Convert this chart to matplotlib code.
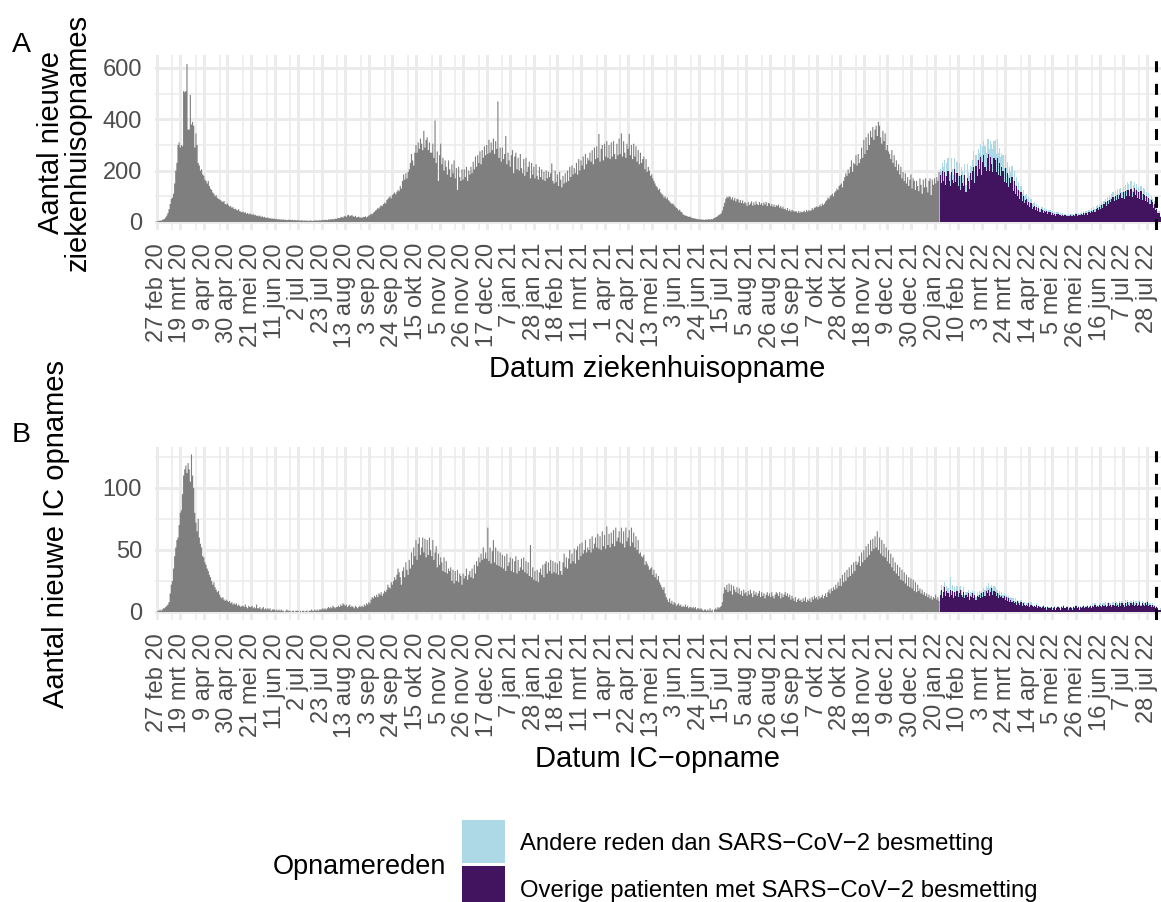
import numpy as np
import pandas as pd
import matplotlib
matplotlib.use("Agg")
import matplotlib.pyplot as plt
import matplotlib.dates as mdates
from matplotlib.patches import Rectangle

plt.rcParams['font.family'] = ['Liberation Sans', 'DejaVu Sans']

# ---------------- data ----------------
START_GRAY = "2020-02-27"     # first day of data
START_SPLIT = "2022-01-25"    # first day with split by admission reason
VLINE_DATE = "2022-08-05"

# Panel A: daily hospital admissions (before split)
hosp_total = [
    2, 3, 4, 6, 5, 8, 10,
    12, 18, 25, 35, 50, 70, 90,
    95, 110, 150, 200, 230, 300, 310,
    290, 300, 295, 510, 505, 510, 615,
    360, 360, 495, 380, 390, 375, 290,
    345, 300, 230, 220, 200, 205, 185,
    180, 165, 160, 150, 160, 140, 130,
    125, 115, 110, 100, 105, 95, 90,
    88, 85, 80, 78, 82, 70, 68,
    72, 65, 60, 62, 55, 58, 50,
    52, 48, 45, 50, 42, 40, 38,
    40, 36, 38, 32, 35, 30, 34,
    30, 28, 32, 26, 28, 24, 25,
    22, 25, 20, 22, 18, 20, 17,
    16, 18, 14, 15, 13, 14, 12,
    13, 11, 12, 10, 11, 9, 10,
    9, 10, 8, 9, 7, 8, 9,
    8, 7, 9, 6, 8, 7, 6,
    7, 6, 5, 7, 6, 5, 6,
    5, 6, 4, 5, 6, 5, 4,
    6, 5, 7, 6, 5, 7, 6,
    7, 8, 6, 9, 8, 7, 10,
    9, 11, 10, 12, 10, 13, 12,
    14, 16, 15, 18, 20, 17, 22,
    24, 20, 26, 28, 22, 25, 27,
    22, 20, 24, 18, 19, 21, 17,
    18, 16, 20, 19, 22, 18, 21,
    25, 28, 32, 30, 36, 40, 45,
    48, 55, 52, 60, 65, 62, 70,
    75, 72, 85, 90, 95, 100, 92,
    105, 110, 115, 108, 118, 125, 120,
    140, 130, 160, 185, 165, 190, 170,
    195, 205, 230, 265, 240, 220, 270,
    300, 270, 310, 285, 325, 305, 280,
    355, 290, 320, 330, 280, 310, 270,
    270, 305, 250, 395, 230, 275, 160,
    260, 305, 225, 250, 200, 240, 215,
    185, 240, 205, 175, 225, 190, 240,
    170, 210, 125, 215, 175, 160, 205,
    165, 205, 175, 215, 160, 200, 185,
    215, 190, 235, 205, 255, 215, 260,
    230, 275, 225, 280, 250, 295, 260,
    300, 265, 320, 270, 310, 280, 325,
    265, 315, 285, 470, 250, 290, 235,
    290, 245, 265, 335, 225, 270, 240,
    215, 260, 280, 190, 255, 270, 205,
    250, 200, 265, 210, 190, 245, 180,
    250, 195, 215, 235, 170, 230, 185,
    215, 170, 225, 180, 165, 215, 175,
    205, 165, 195, 160, 200, 170, 195,
    175, 190, 228, 160, 150, 200, 155,
    185, 140, 195, 165, 135, 180, 150,
    190, 155, 200, 160, 215, 175, 220,
    185, 210, 190, 230, 185, 245, 200,
    240, 220, 255, 205, 265, 225, 250,
    240, 270, 235, 280, 225, 290, 245,
    295, 250, 343, 235, 285, 300, 240,
    305, 255, 315, 250, 300, 245, 310,
    255, 315, 265, 245, 305, 260, 325,
    265, 345, 255, 315, 270, 250, 305,
    285, 343, 260, 300, 245, 305, 255,
    295, 235, 280, 225, 270, 230, 245,
    255, 205, 245, 195, 215, 200, 180,
    185, 170, 160, 150, 140, 135, 125,
    130, 115, 110, 105, 95, 100, 90,
    95, 85, 80, 75, 70, 72, 65,
    60, 55, 52, 45, 48, 40, 38,
    30, 27, 25, 24, 22, 20, 21,
    18, 16, 15, 14, 13, 12, 11,
    10, 11, 9, 10, 9, 8, 10,
    9, 10, 11, 9, 12, 10, 14,
    16, 18, 20, 24, 28, 30, 34,
    45, 60, 75, 90, 98, 95, 100,
    98, 88, 96, 84, 94, 80, 90,
    88, 76, 86, 74, 84, 72, 78,
    72, 62, 78, 66, 72, 80, 64,
    76, 66, 80, 70, 66, 78, 68,
    74, 64, 76, 68, 78, 62, 74,
    72, 62, 70, 60, 68, 58, 66,
    62, 68, 56, 62, 53, 60, 50,
    52, 46, 54, 43, 49, 41, 47,
    44, 40, 42, 41, 36, 43, 36,
    41, 38, 40, 44, 38, 47, 41,
    46, 44, 45, 54, 48, 56, 57,
    61, 58, 60, 68, 61, 72, 66,
    72, 80, 85, 95, 90, 100, 105,
    110, 100, 115, 120, 130, 125, 140,
    145, 150, 135, 160, 175, 190, 180,
    205, 190, 215, 240, 195, 230, 225,
    260, 220, 265, 230, 245, 290, 250,
    320, 265, 330, 280, 345, 300, 355,
    330, 370, 320, 360, 375, 335, 390,
    375, 330, 305, 355, 315, 345, 280,
    300, 275, 265, 245, 280, 230, 260,
    215, 240, 200, 225, 185, 215, 170,
    195, 160, 190, 150, 175, 140, 165,
    185, 130, 170, 160, 125, 160, 140,
    120, 170, 145, 110, 165, 135, 170,
    135, 115, 160, 170, 105, 165, 145,
    170, 150, 175, 160, 195,
]

# Panel A after split: "Overige patienten met SARS-CoV-2 besmetting"
hosp_covid = [
    185, 150, 200, 160, 195, 145, 180,
    200, 160, 140, 195, 165, 150, 205,
    155, 190, 140, 180, 125, 185, 150,
    140, 185, 115, 170, 160, 130, 190,
    165, 200, 215, 150, 220, 180, 240,
    205, 255, 185, 235, 260, 215, 200,
    250, 265, 200, 255, 225, 195, 250,
    240, 195, 250, 185, 230, 180, 215,
    200, 155, 210, 150, 190, 135, 170,
    150, 175, 120, 160, 110, 140, 100,
    125, 90, 115, 80, 100, 75, 85,
    90, 65, 78, 58, 75, 52, 60,
    62, 46, 58, 42, 54, 40, 50,
    48, 36, 44, 38, 42, 33, 38,
    38, 28, 36, 26, 33, 25, 32,
    30, 26, 28, 24, 27, 22, 26,
    27, 23, 25, 22, 27, 25, 24,
    28, 22, 30, 23, 29, 27, 28,
    33, 26, 35, 28, 36, 29, 38,
    40, 34, 44, 38, 48, 40, 52,
    55, 48, 58, 52, 66, 56, 70,
    76, 62, 80, 72, 84, 78, 88,
    96, 80, 100, 84, 106, 88, 104,
    112, 92, 118, 90, 122, 102, 126,
    124, 100, 130, 96, 118, 132, 104,
    124, 95, 116, 90, 120, 85, 110,
    106, 80, 100, 76, 95, 70, 86,
    76, 56, 70, 48, 50, 36, 34,
    18,
]
# Panel A after split: "Andere reden dan SARS-CoV-2 besmetting"
hosp_other = [
    20, 45, 30, 55, 45, 35, 50,
    50, 30, 45, 55, 40, 35, 45,
    35, 45, 40, 50, 55, 30, 50,
    45, 40, 30, 55, 35, 50, 30,
    50, 40, 60, 50, 40, 60, 45,
    65, 50, 75, 60, 55, 80, 70,
    75, 60, 85, 60, 80, 90, 65,
    80, 70, 75, 85, 60, 75, 55,
    60, 55, 50, 60, 45, 50, 45,
    45, 45, 40, 40, 35, 35, 30,
    30, 30, 25, 30, 25, 25, 20,
    20, 25, 18, 20, 15, 18, 15,
    15, 12, 14, 12, 10, 12, 10,
    12, 10, 11, 9, 10, 9, 10,
    8, 9, 7, 8, 7, 8, 6,
    7, 6, 8, 6, 7, 5, 6,
    6, 5, 7, 5, 6, 5, 6,
    5, 6, 5, 7, 5, 6, 7,
    6, 7, 6, 8, 7, 8, 7,
    8, 7, 9, 8, 10, 9, 10,
    10, 12, 11, 13, 12, 14, 13,
    14, 15, 16, 15, 18, 17, 20,
    20, 18, 22, 20, 24, 21, 23,
    22, 25, 20, 26, 24, 22, 28,
    25, 22, 28, 24, 26, 22, 22,
    24, 26, 22, 25, 20, 23, 22,
    22, 20, 18, 20, 17, 18, 16,
    14, 12, 13, 10, 9, 8, 7,
    5,
]

# Panel B: daily IC admissions (before split)
ic_total = [
    0, 1, 1, 2, 1, 2, 3,
    3, 4, 5, 6, 8, 15, 22,
    25, 35, 45, 52, 58, 60, 70,
    80, 82, 95, 110, 115, 118, 112,
    120, 115, 105, 127, 110, 100, 80,
    72, 65, 75, 60, 55, 52, 45,
    44, 40, 38, 35, 33, 30, 28,
    25, 22, 24, 20, 18, 16, 17,
    14, 12, 11, 12, 10, 9, 10,
    9, 8, 9, 7, 8, 6, 7,
    6, 7, 5, 6, 5, 4, 5,
    5, 4, 6, 4, 3, 5, 4,
    4, 5, 3, 4, 3, 6, 3,
    3, 4, 2, 3, 4, 2, 3,
    2, 3, 2, 3, 1, 2, 2,
    2, 1, 2, 1, 2, 1, 2,
    1, 1, 0, 1, 2, 1, 1,
    1, 0, 1, 1, 0, 1, 1,
    1, 0, 1, 0, 1, 1, 0,
    1, 1, 0, 1, 1, 2, 1,
    1, 2, 1, 2, 1, 2, 2,
    2, 3, 2, 3, 2, 3, 4,
    3, 4, 3, 5, 4, 3, 4,
    4, 5, 4, 6, 5, 7, 6,
    5, 6, 4, 5, 6, 4, 5,
    4, 3, 5, 4, 3, 4, 5,
    4, 5, 4, 6, 5, 7, 6,
    8, 7, 10, 12, 11, 13, 12,
    14, 12, 15, 14, 16, 13, 15,
    17, 16, 18, 22, 20, 19, 24,
    22, 25, 28, 26, 30, 35, 32,
    28, 22, 33, 36, 28, 40, 34,
    30, 42, 35, 48, 38, 52, 45,
    58, 42, 55, 60, 46, 52, 60,
    48, 59, 44, 58, 46, 60, 50,
    45, 58, 42, 48, 53, 36, 47,
    38, 44, 40, 33, 44, 32, 41,
    31, 35, 33, 36, 25, 34, 23,
    33, 25, 34, 24, 31, 29, 22,
    31, 27, 29, 35, 26, 30, 33,
    28, 35, 27, 38, 31, 41, 37,
    44, 40, 47, 42, 52, 43, 48,
    43, 68, 41, 52, 39, 49, 58,
    40, 52, 38, 49, 37, 48, 36,
    46, 35, 45, 33, 47, 37, 40,
    44, 33, 43, 32, 41, 45, 31,
    42, 33, 36, 43, 34, 44, 32,
    41, 31, 40, 29, 54, 28, 36,
    26, 33, 25, 34, 24, 32, 35,
    30, 38, 28, 39, 41, 31, 40,
    33, 42, 31, 41, 32, 40, 31,
    39, 30, 41, 33, 30, 40, 47,
    36, 44, 35, 43, 50, 39, 47,
    41, 51, 39, 50, 53, 42, 55,
    45, 56, 47, 50, 58, 48, 52,
    50, 59, 48, 61, 51, 55, 60,
    52, 63, 51, 61, 50, 65, 53,
    62, 51, 69, 54, 63, 52, 64,
    55, 66, 53, 68, 57, 60, 65,
    56, 68, 55, 65, 52, 68, 57,
    60, 66, 53, 68, 56, 64, 52,
    61, 50, 58, 47, 48, 45, 44,
    46, 38, 41, 39, 37, 34, 35,
    36, 30, 34, 28, 31, 26, 29,
    24, 22, 20, 18, 20, 15, 12,
    10, 8, 11, 7, 9, 6, 8,
    7, 5, 6, 7, 5, 6, 4,
    5, 4, 6, 4, 5, 3, 4,
    4, 3, 4, 3, 4, 2, 3,
    3, 2, 3, 2, 1, 2, 2,
    1, 2, 1, 3, 1, 2, 0,
    2, 3, 2, 4, 3, 4, 5,
    8, 15, 20, 18, 22, 16, 23,
    17, 22, 14, 21, 18, 16, 20,
    15, 19, 14, 17, 13, 18, 15,
    16, 13, 17, 14, 18, 15, 12,
    17, 14, 16, 13, 15, 17, 12,
    16, 13, 15, 11, 14, 16, 13,
    15, 12, 16, 13, 11, 14, 16,
    15, 13, 16, 11, 15, 12, 14,
    16, 13, 15, 12, 14, 10, 13,
    11, 9, 12, 8, 10, 11, 9,
    10, 8, 11, 9, 12, 8, 10,
    9, 11, 8, 12, 10, 13, 11,
    12, 10, 13, 11, 12, 14, 11,
    13, 15, 12, 16, 18, 15, 19,
    17, 20, 18, 22, 19, 24, 21,
    27, 21, 30, 24, 32, 25, 34,
    28, 36, 29, 38, 31, 40, 33,
    41, 38, 40, 45, 37, 48, 40,
    50, 42, 53, 44, 55, 46, 58,
    49, 59, 51, 61, 52, 65, 50,
    60, 47, 58, 45, 55, 44, 52,
    41, 50, 39, 47, 36, 44, 33,
    40, 31, 38, 29, 36, 26, 34,
    25, 32, 23, 30, 21, 28, 20,
    27, 19, 26, 17, 24, 16, 22,
    17, 19, 15, 18, 14, 16, 13,
    15, 12, 14, 11, 13, 10, 12,
    11, 14, 10, 12, 9,
]

ic_covid = [
    14, 18, 11, 16, 20, 13, 17,
    15, 12, 18, 14, 17, 11, 16,
    13, 17, 12, 15, 18, 14, 12,
    16, 11, 14, 12, 15, 10, 13,
    12, 15, 11, 14, 10, 13, 12,
    14, 11, 15, 12, 16, 13, 17,
    15, 18, 13, 16, 19, 14, 17,
    16, 13, 15, 11, 14, 12, 13,
    11, 13, 10, 12, 9, 11, 8,
    10, 8, 9, 7, 8, 6, 9,
    7, 6, 8, 5, 7, 6, 5,
    6, 5, 7, 4, 6, 5, 4,
    5, 4, 6, 3, 5, 4, 3,
    4, 5, 3, 4, 2, 4, 3,
    3, 4, 2, 3, 4, 2, 3,
    4, 3, 2, 4, 3, 5, 3,
    3, 4, 2, 3, 4, 3, 2,
    4, 3, 5, 3, 4, 2, 4,
    3, 4, 5, 3, 4, 5, 3,
    4, 5, 3, 5, 4, 6, 4,
    5, 4, 6, 5, 4, 6, 5,
    6, 4, 5, 7, 5, 6, 4,
    6, 5, 7, 5, 6, 4, 7,
    5, 7, 6, 4, 7, 5, 8,
    6, 5, 7, 6, 8, 5, 6,
    7, 5, 6, 8, 5, 7, 6,
    5, 7, 6, 8, 5, 6, 4,
    6, 4, 5, 3, 4, 3, 2,
    2,
]
ic_other = [
    3, 4, 2, 5, 4, 3, 4,
    4, 3, 10, 3, 5, 2, 4,
    3, 4, 3, 5, 3, 4, 2,
    4, 3, 2, 4, 3, 2, 3,
    3, 2, 4, 3, 2, 3, 2,
    3, 4, 2, 4, 3, 5, 4,
    4, 5, 6, 4, 3, 5, 4,
    4, 5, 3, 4, 3, 2, 3,
    3, 2, 3, 2, 3, 2, 3,
    2, 3, 2, 2, 3, 2, 1,
    2, 1, 2, 2, 1, 2, 1,
    1, 2, 1, 1, 2, 1, 1,
    1, 1, 1, 2, 1, 1, 1,
    1, 1, 1, 0, 1, 1, 1,
    1, 0, 1, 1, 1, 0, 1,
    1, 1, 0, 1, 1, 1, 0,
    0, 1, 1, 1, 0, 1, 1,
    1, 1, 1, 0, 1, 1, 1,
    1, 1, 1, 1, 1, 1, 1,
    1, 1, 1, 2, 1, 1, 1,
    1, 1, 1, 2, 1, 1, 2,
    2, 1, 2, 1, 2, 1, 2,
    2, 1, 2, 3, 1, 2, 2,
    2, 2, 1, 2, 3, 2, 2,
    2, 3, 2, 1, 2, 2, 3,
    2, 2, 3, 2, 1, 2, 2,
    2, 1, 2, 2, 2, 1, 2,
    1, 2, 1, 1, 1, 1, 0,
    1,
]

tick_labels = [
    "27 feb 20", "19 mrt 20", "9 apr 20", "30 apr 20", "21 mei 20", "11 jun 20",
    "2 jul 20", "23 jul 20", "13 aug 20", "3 sep 20", "24 sep 20", "15 okt 20",
    "5 nov 20", "26 nov 20", "17 dec 20", "7 jan 21", "28 jan 21", "18 feb 21",
    "11 mrt 21", "1 apr 21", "22 apr 21", "13 mei 21", "3 jun 21", "24 jun 21",
    "15 jul 21", "5 aug 21", "26 aug 21", "16 sep 21", "7 okt 21", "28 okt 21",
    "18 nov 21", "9 dec 21", "30 dec 21", "20 jan 22", "10 feb 22", "3 mrt 22",
    "24 mrt 22", "14 apr 22", "5 mei 22", "26 mei 22", "16 jun 22", "7 jul 22",
    "28 jul 22",
]

legend_labels = ["Andere reden dan SARS\u2212CoV\u22122 besmetting",
                 "Overige patienten met SARS\u2212CoV\u22122 besmetting"]
legend_title = "Opnamereden"
COL_GRAY = "#7F7F7F"
COL_OTHER = "#ADD8E6"
COL_COVID = "#42145F"
COL_GRID = "#EBEBEB"

# ---------------- figure ----------------
W, H = 1161, 902
fig = plt.figure(figsize=(W / 100, H / 100), dpi=100)
fig.patch.set_facecolor("white")


def fx(px):
    return px / W


def fy(py):
    return 1 - py / H


def edges_for(start, n):
    d = mdates.date2num(pd.date_range(start, periods=n, freq="D"))
    return np.append(d - 0.5, d[-1] + 0.5)


major_pos = mdates.date2num(pd.date_range(START_GRAY, periods=len(tick_labels), freq="21D"))
minor_pos = major_pos[:-1] + 14
x_left = mdates.date2num(pd.Timestamp(START_GRAY)) - 1.5
x_right = mdates.date2num(pd.Timestamp(START_SPLIT)) + len(hosp_covid) - 0.5


def draw_panel(ax, total, covid, other, yticks, yminor, ylim):
    e_gray = edges_for(START_GRAY, len(total))
    e_split = edges_for(START_SPLIT, len(covid))
    cov = np.array(covid, float)
    oth = np.array(other, float)
    ax.stairs(total, e_gray, fill=True, color=COL_GRAY, baseline=0, linewidth=0, zorder=2)
    ax.stairs(cov, e_split, fill=True, color=COL_COVID, baseline=0, linewidth=0, zorder=2)
    ax.stairs(cov + oth, e_split, fill=True, color=COL_OTHER, baseline=cov, linewidth=0, zorder=2)
    ax.axvline(mdates.date2num(pd.Timestamp(VLINE_DATE)), color="black", lw=2.2,
               linestyle=(0, (3.6, 3.8)), zorder=4)
    ax.set_xlim(x_left, x_right)
    ax.set_ylim(*ylim)
    ax.set_xticks(major_pos)
    ax.set_xticklabels(tick_labels, rotation=90)
    ax.set_xticks(minor_pos, minor=True)
    ax.set_yticks(yticks)
    ax.set_yticks(yminor, minor=True)
    ax.grid(which="major", color=COL_GRID, lw=2.1)
    ax.grid(which="minor", color=COL_GRID, lw=1.1)
    ax.set_axisbelow(True)
    for s in ax.spines.values():
        s.set_visible(False)
    ax.tick_params(which="both", length=0)
    ax.tick_params(axis="both", which="major", pad=9.4, labelsize=17, labelcolor="#4D4D4D")


axA = fig.add_axes([fx(155), fy(230), fx(1160.7) - fx(155), (230 - 55) / H])
draw_panel(axA, hosp_total, hosp_covid, hosp_other, [0, 200, 400, 600], [100, 300, 500],
           (-31.2, 650.6))

axB = fig.add_axes([fx(155), fy(620), fx(1160.7) - fx(155), (620 - 447) / H])
draw_panel(axB, ic_total, ic_covid, ic_other, [0, 50, 100], [25, 75, 125], (-6.45, 133.0))

# panel tags
fig.text(fx(11.5), fy(52), "A", fontsize=20.5, ha="left", va="baseline")
fig.text(fx(11.5), fy(442), "B", fontsize=20.5, ha="left", va="baseline")

# axis titles
kw = dict(rotation=90, rotation_mode="anchor", ha="center", va="baseline", fontsize=21)
fig.text(fx(59), fy(142.5), "Aantal nieuwe", **kw)
fig.text(fx(86), fy(142.5), "ziekenhuisopnames", **kw)
fig.text(fx(64), fy(533.5), "Aantal nieuwe IC opnames", **kw)
fig.text(fx(657.5), fy(377), "Datum ziekenhuisopname", ha="center", va="baseline", fontsize=21)
fig.text(fx(657.5), fy(767), "Datum IC\u2212opname", ha="center", va="baseline", fontsize=21)

# legend
fig.add_artist(Rectangle((fx(462), fy(863)), 43 / W, 43 / H, transform=fig.transFigure,
                         facecolor=COL_OTHER, edgecolor="none"))
fig.add_artist(Rectangle((fx(462), fy(909)), 43 / W, 43 / H, transform=fig.transFigure,
                         facecolor=COL_COVID, edgecolor="none"))
fig.text(fx(446), fy(873.7), legend_title, ha="right", va="baseline", fontsize=19.5)
fig.text(fx(520), fy(850.3), legend_labels[0], ha="left", va="baseline", fontsize=17.2)
fig.text(fx(520), fy(897), legend_labels[1], ha="left", va="baseline", fontsize=17.2)

fig.savefig("out.png", dpi=100, facecolor="white")
